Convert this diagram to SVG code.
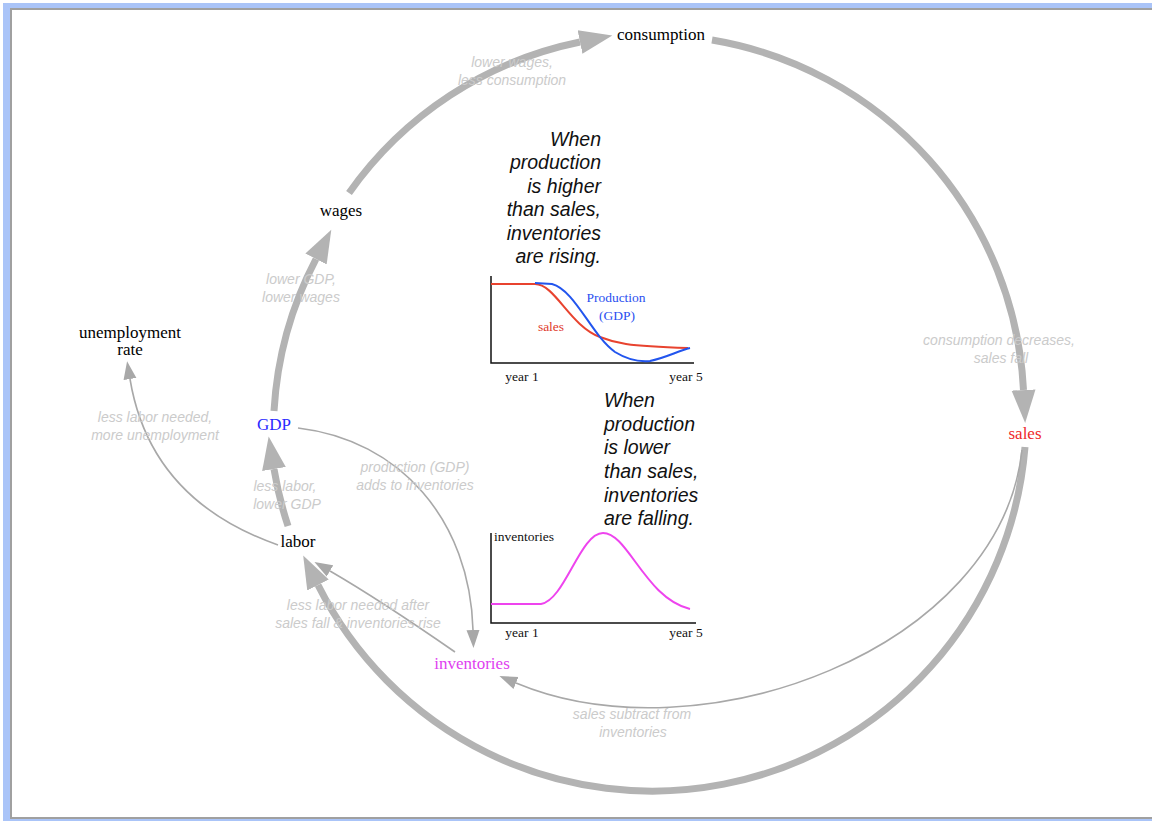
<svg xmlns="http://www.w3.org/2000/svg" width="1152" height="821" viewBox="0 0 1152 821">
<style>
.node{font-family:"Liberation Serif","Times New Roman",serif;font-size:17px;text-anchor:middle;fill:#000}
.lbl{font-family:"Liberation Sans",Arial,sans-serif;font-style:italic;font-size:14px;text-anchor:middle;fill:#cbcbcb}
.note{font-family:"Liberation Sans",Arial,sans-serif;font-style:italic;font-size:19.5px;fill:#111}
.ax{font-family:"Liberation Serif","Times New Roman",serif;font-size:13.5px;fill:#111}
.thick{fill:none;stroke:#b3b3b3;stroke-width:7}
.thin{fill:none;stroke:#a8a8a8;stroke-width:1.6}
.axis{fill:none;stroke:#111;stroke-width:1.5}
</style>
<defs>
<marker id="big" markerUnits="userSpaceOnUse" markerWidth="40" markerHeight="30" refX="0" refY="12" orient="auto" viewBox="0 0 40 24">
<path d="M0,0 L33,12 L0,24 z" fill="#b3b3b3"/>
</marker>
<marker id="small" markerUnits="userSpaceOnUse" markerWidth="20" markerHeight="14" refX="0" refY="6.5" orient="auto" viewBox="0 0 20 13">
<path d="M0,0 L18,6.5 L0,13 z" fill="#a8a8a8"/>
</marker>
</defs>
<rect x="0" y="0" width="1152" height="821" fill="#ffffff"/>
<rect x="3" y="3" width="1152" height="818" fill="#aac4f8"/>
<rect x="10" y="8" width="1145" height="811" fill="#a0a0a0"/>
<rect x="12" y="10" width="1143" height="807" fill="#ffffff"/>

<g id="connectors">
<path class="thick" d="M349,193 A374,374 0 0 1 580,42" marker-end="url(#big)"/>
<path class="thick" d="M712,40 A374,374 0 0 1 1023.5,390" marker-end="url(#big)"/>
<path class="thick" d="M274,411 A374,374 0 0 1 316,259" marker-end="url(#big)"/>
<path class="thick" d="M288,526 A374,374 0 0 1 274,469" marker-end="url(#big)"/>
<path class="thick" d="M1025,447 A374,374 0 0 1 318,585" marker-end="url(#big)"/>
<path class="thin" d="M278,545 Q150,500 130,379" marker-end="url(#small)"/>
<path class="thin" d="M298,428 C400,440 470,520 473,630" marker-end="url(#small)"/>
<path class="thin" d="M455,652 Q380,600 330,571" marker-end="url(#small)"/>
<path class="thin" d="M1022,450 C1000,650 700,760 516,683" marker-end="url(#small)"/>
</g>

<g id="link-labels">
<text class="lbl" x="512" y="67">lower wages,</text>
<text class="lbl" x="512" y="85">less consumption</text>
<text class="lbl" x="301" y="284">lower GDP,</text>
<text class="lbl" x="301" y="302">lower wages</text>
<text class="lbl" x="999" y="345">consumption decreases,</text>
<text class="lbl" x="1001" y="363">sales fall</text>
<text class="lbl" x="155" y="422">less labor needed,</text>
<text class="lbl" x="155" y="440">more unemployment</text>
<text class="lbl" x="285" y="491">less labor,</text>
<text class="lbl" x="287" y="509">lower GDP</text>
<text class="lbl" x="415" y="472">production (GDP)</text>
<text class="lbl" x="415" y="490">adds to inventories</text>
<text class="lbl" x="358" y="610">less labor needed after</text>
<text class="lbl" x="358" y="628">sales fall &amp; inventories rise</text>
<text class="lbl" x="632" y="719">sales subtract from</text>
<text class="lbl" x="633" y="737">inventories</text>
</g>

<g id="node-consumption"><text class="node" x="661" y="40">consumption</text></g>
<g id="node-wages"><text class="node" x="341" y="216">wages</text></g>
<g id="node-unemployment"><text class="node" x="130" y="338">unemployment</text><text class="node" x="130" y="355">rate</text></g>
<g id="node-gdp"><text class="node" x="274" y="430" style="fill:#2a2aff">GDP</text></g>
<g id="node-labor"><text class="node" x="298" y="547">labor</text></g>
<g id="node-inventories"><text class="node" x="472" y="669" style="fill:#e040f0">inventories</text></g>
<g id="node-sales"><text class="node" x="1025" y="439" style="fill:#ee2a2a">sales</text></g>

<g id="note-rising">
<text class="note" text-anchor="end" x="601" y="146">When</text>
<text class="note" text-anchor="end" x="601" y="169">production</text>
<text class="note" text-anchor="end" x="601" y="193">is higher</text>
<text class="note" text-anchor="end" x="601" y="216">than sales,</text>
<text class="note" text-anchor="end" x="601" y="240">inventories</text>
<text class="note" text-anchor="end" x="601" y="263">are rising.</text>
</g>
<g id="note-falling">
<text class="note" x="604" y="407">When</text>
<text class="note" x="604" y="431">production</text>
<text class="note" x="604" y="454">is lower</text>
<text class="note" x="604" y="478">than sales,</text>
<text class="note" x="604" y="502">inventories</text>
<text class="note" x="604" y="525">are falling.</text>
</g>

<g id="chart-production">
<path class="axis" d="M491,276 L491,363 L694,363"/>
<path fill="none" stroke="#e8432f" stroke-width="2" d="M491,284 L535,284 C555,284 570,326 600,337 C615,343 625,346 688,348"/>
<path fill="none" stroke="#2255ee" stroke-width="2" d="M535,283 L552,284 C575,290 592,336 615,352 C628,360 640,362 650,361 C665,358 678,351 690,348"/>
<text class="ax" x="616" y="302" text-anchor="middle" style="fill:#2a4ff0">Production</text>
<text class="ax" x="617" y="320" text-anchor="middle" style="fill:#2a4ff0">(GDP)</text>
<text class="ax" x="551" y="331" text-anchor="middle" style="fill:#e03a2a">sales</text>
<text class="ax" x="522" y="381" text-anchor="middle">year 1</text>
<text class="ax" x="686" y="381" text-anchor="middle">year 5</text>
</g>

<g id="chart-inventories">
<path class="axis" d="M491,533 L491,623 L696,623"/>
<path fill="none" stroke="#ee44ee" stroke-width="2" d="M491,604 L541,604 C565,600 580,533 603,533 C628,533 645,598 690,609"/>
<text class="ax" x="494" y="541">inventories</text>
<text class="ax" x="522" y="637" text-anchor="middle">year 1</text>
<text class="ax" x="686" y="637" text-anchor="middle">year 5</text>
</g>
</svg>
